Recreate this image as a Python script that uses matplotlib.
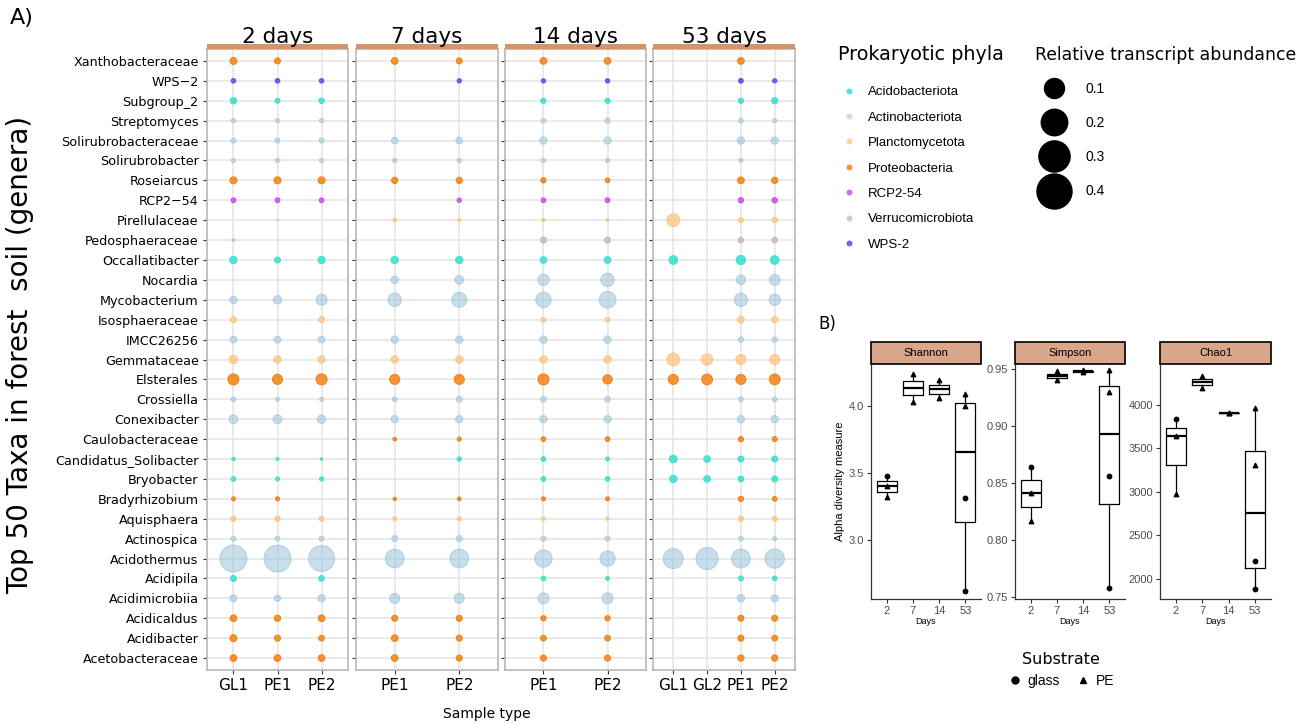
import matplotlib
matplotlib.use("Agg")
import matplotlib.pyplot as plt
import matplotlib.colors as mcolors
from matplotlib.lines import Line2D
from matplotlib.patches import Rectangle
import numpy as np

# ---- data -------------------------------------------------------------
taxa = ["Xanthobacteraceae", "WPS\u22122", "Subgroup_2", "Streptomyces", "Solirubrobacteraceae",
        "Solirubrobacter", "Roseiarcus", "RCP2\u221254", "Pirellulaceae", "Pedosphaeraceae",
        "Occallatibacter", "Nocardia", "Mycobacterium", "Isosphaeraceae", "IMCC26256",
        "Gemmataceae", "Elsterales", "Crossiella", "Conexibacter", "Caulobacteraceae",
        "Candidatus_Solibacter", "Bryobacter", "Bradyrhizobium", "Aquisphaera", "Actinospica",
        "Acidothermus", "Acidipila", "Acidimicrobiia", "Acidicaldus", "Acidibacter",
        "Acetobacteraceae"]
phylum = ["Proteobacteria", "WPS-2", "Acidobacteriota", "Actinobacteriota", "Actinobacteriota",
          "Actinobacteriota", "Proteobacteria", "RCP2-54", "Planctomycetota", "Verrucomicrobiota",
          "Acidobacteriota", "Actinobacteriota", "Actinobacteriota", "Planctomycetota", "Actinobacteriota",
          "Planctomycetota", "Proteobacteria", "Actinobacteriota", "Actinobacteriota", "Proteobacteria",
          "Acidobacteriota", "Acidobacteriota", "Proteobacteria", "Planctomycetota", "Actinobacteriota",
          "Actinobacteriota", "Acidobacteriota", "Actinobacteriota", "Proteobacteria", "Proteobacteria",
          "Proteobacteria"]

d2_GL1 = [0.0074, 0.0025, 0.0062, 0.0022, 0.0032, 0.0022, 0.0074, 0.0028, 0, 0.0006, 0.0083, 0, 0.0083,
          0.0051, 0.0067, 0.0113, 0.0228, 0.0028, 0.0127, 0, 0.0012, 0.0028, 0.0019, 0.0037, 0.0032,
          0.21, 0.0051, 0.0067, 0.0067, 0.0074, 0.0067]
d2_PE1 = [0.0051, 0.0025, 0.0032, 0.0022, 0.0032, 0.0022, 0.0074, 0.0028, 0.0002, 0, 0.0051, 0, 0.0113,
          0, 0.0067, 0.0083, 0.018, 0.0015, 0.0127, 0, 0.0009, 0.0019, 0.0019, 0.0037, 0.0032,
          0.21, 0, 0.0057, 0.0057, 0.0051, 0.0067]
d2_PE2 = [0, 0.0025, 0.0041, 0.0022, 0.0032, 0.0022, 0.0074, 0.0028, 0, 0, 0.0083, 0, 0.0228,
          0.0051, 0.0067, 0.0083, 0.0228, 0.0019, 0.0113, 0, 0.0007, 0.0022, 0, 0.0032, 0.0032,
          0.191, 0.0045, 0.0083, 0.0067, 0.0045, 0.0067]
d7_PE1 = [0.0067, 0, 0, 0, 0.0067, 0.0022, 0.0057, 0, 0.0012, 0, 0.0083, 0.0083, 0.0364,
          0, 0.0083, 0.0083, 0.018, 0.0028, 0.0083, 0.0015, 0, 0, 0.0012, 0.0019, 0.0051,
          0.085, 0, 0.018, 0.0051, 0.0067, 0.0067]
d7_PE2 = [0.0051, 0.0022, 0, 0, 0.0067, 0.0022, 0.0057, 0.0022, 0.0009, 0, 0.0083, 0.0127, 0.049,
          0, 0.0083, 0.0083, 0.018, 0.0051, 0.0083, 0.0019, 0.0022, 0, 0.0015, 0.0019, 0.0051,
          0.085, 0, 0.018, 0.0051, 0.0051, 0.0051]
d14_PE1 = [0.0067, 0.0022, 0.0037, 0.0028, 0.0083, 0.0022, 0.0037, 0.0028, 0.0012, 0.0051, 0.0067, 0.0244, 0.0516,
           0.0028, 0.0083, 0.0083, 0.0228, 0.0045, 0.0083, 0.0028, 0.0028, 0.0028, 0.0019, 0.0015, 0.0037,
           0.07, 0.0028, 0.0228, 0.0037, 0.0045, 0.0051]
d14_PE2 = [0.0067, 0.0022, 0.0037, 0.0037, 0.0083, 0.0022, 0.0028, 0.0028, 0.0009, 0.0051, 0.0067, 0.0364, 0.064,
           0.0028, 0.0083, 0.0083, 0.015, 0.0045, 0.0083, 0.0028, 0.0019, 0.0028, 0.0019, 0.0012, 0.0037,
           0.0516, 0.0019, 0.0228, 0.0037, 0.0045, 0.0051]
d53_GL1 = [0, 0, 0, 0, 0, 0, 0, 0, 0.0325, 0, 0.0127, 0, 0,
           0, 0, 0.0325, 0.018, 0, 0, 0, 0.0094, 0.0083, 0, 0, 0,
           0.10, 0, 0, 0, 0, 0]
d53_GL2 = [0, 0, 0, 0, 0, 0, 0, 0, 0, 0, 0, 0, 0,
           0, 0, 0.0244, 0.0213, 0, 0, 0, 0.0067, 0.0067, 0, 0, 0,
           0.127, 0, 0, 0, 0, 0]
d53_PE1 = [0.0067, 0.0028, 0.0037, 0.0028, 0.0083, 0.0019, 0.0067, 0.0037, 0.0032, 0.0037, 0.015, 0.015, 0.0364,
           0.0067, 0.0037, 0.018, 0.018, 0.0028, 0.0083, 0.0037, 0.0051, 0.0045, 0.0037, 0.0037, 0.0028,
           0.085, 0.0032, 0.0083, 0.0051, 0.0051, 0.0057]
d53_PE2 = [0, 0.0022, 0.0057, 0.0019, 0.0083, 0, 0.0057, 0.0037, 0.0037, 0.0045, 0.0127, 0.0213, 0.0244,
           0.0057, 0.0037, 0.018, 0.0213, 0.0028, 0.0083, 0.0032, 0.0051, 0.0051, 0.0028, 0.0032, 0.0019,
           0.092, 0.0028, 0.0083, 0.0051, 0.0045, 0.0057]

size_breaks = [0.1, 0.2, 0.3, 0.4]

# alpha diversity (panel B)
alpha_day = [2, 2, 2, 7, 7, 14, 14, 53, 53, 53, 53]
alpha_sub = ["glass", "PE", "PE", "PE", "PE", "PE", "PE", "glass", "glass", "PE", "PE"]
shannon = [3.48, 3.40, 3.32, 4.24, 4.03, 4.19, 4.06, 2.62, 3.31, 4.00, 4.09]
simpson = [0.864, 0.841, 0.817, 0.948, 0.940, 0.949, 0.947, 0.758, 0.856, 0.930, 0.949]
chao1 = [3840, 3641, 2977, 4330, 4200, 3912, 3908, 1885, 2207, 3310, 3960]
day_levels = [2, 7, 14, 53]

phyla_colors = {
    "Acidobacteriota": ("#40E0D0", 0.9),
    "Actinobacteriota": ("#9DC3DC", 0.55),
    "Planctomycetota": ("#FDBF6F", 0.65),
    "Proteobacteria": ("#F27F0C", 0.82),
    "RCP2-54": ("#CC44EE", 0.8),
    "Verrucomicrobiota": ("#C8A8D0", 0.7),
    "WPS-2": ("#5A4BF0", 0.85),
}

W, H = 1306, 723
plt.rcParams["font.family"] = "DejaVu Sans"
fig = plt.figure(figsize=(W / 100, H / 100), dpi=100)


def px_axes(x0, y0, x1, y1):
    return fig.add_axes([x0 / W, 1 - y1 / H, (x1 - x0) / W, (y1 - y0) / H])


def bubble_d(v):
    # diameter in points
    return 50.7 * np.power(v, 0.404) * 0.72


# ---- panel A ------------------------------------------------------------
panels = [("2 days", ["GL1", "PE1", "PE2"], [d2_GL1, d2_PE1, d2_PE2], 207, 348),
          ("7 days", ["PE1", "PE2"], [d7_PE1, d7_PE2], 356, 498),
          ("14 days", ["PE1", "PE2"], [d14_PE1, d14_PE2], 505, 646),
          ("53 days", ["GL1", "GL2", "PE1", "PE2"], [d53_GL1, d53_GL2, d53_PE1, d53_PE2], 653, 795)]

rows = np.arange(1, len(taxa) + 1)
face = np.array([mcolors.to_rgba(phyla_colors[p][0], phyla_colors[p][1]) for p in phylum])
edge = np.array([mcolors.to_rgba(phyla_colors[p][0], min(1, phyla_colors[p][1] + 0.2)) for p in phylum])

for k, (title, labels, cols, x0, x1) in enumerate(panels):
    ax = px_axes(x0, 49, x1, 670)
    n = len(cols)
    ax.set_xlim(0.4, n + 0.6)
    ax.set_ylim(len(taxa) + 0.6, 0.4)
    ax.set_xticks(range(1, n + 1))
    ax.set_xticklabels(labels, fontsize=11)
    ax.set_yticks(rows)
    if k == 0:
        ax.set_yticklabels(taxa, fontsize=9.2)
    else:
        ax.set_yticklabels([])
        ax.tick_params(axis="y", length=0)
    ax.tick_params(length=3, color="#333333", width=0.8, pad=3)
    ax.grid(True, color="#e6e6e6", lw=1.2)
    ax.set_axisbelow(True)
    for sp in ax.spines.values():
        sp.set_color("#b8b8b8")
        sp.set_linewidth(1.2)
    for j, vals in enumerate(cols):
        v = np.array(vals, dtype=float)
        m = v > 0
        ax.scatter(np.full(m.sum(), j + 1), rows[m], s=bubble_d(v[m]) ** 2,
                   c=face[m], edgecolors=edge[m], linewidths=0.7, zorder=3)
    sax = px_axes(x0, 44, x1, 49)
    sax.set_facecolor("#D4956A")
    sax.set_xticks([])
    sax.set_yticks([])
    for sp in sax.spines.values():
        sp.set_visible(False)
    fig.text((x0 + x1) / 2 / W, 1 - 37 / H, title, ha="center", va="center", fontsize=15.5)

fig.text(10 / W, 1 - 18 / H, "A)", fontsize=16, va="center")
fig.text(20 / W, 1 - 355 / H, "Top 50 Taxa in forest  soil (genera)", rotation=90,
         fontsize=20, ha="center", va="center")
fig.text(487 / W, 1 - 714 / H, "Sample type", fontsize=10, ha="center", va="center")

# legends for panel A
ph_names = list(phyla_colors.keys())
ph_handles = [Line2D([], [], marker="o", ls="", markersize=4.3,
                     markerfacecolor=mcolors.to_rgba(phyla_colors[p][0], phyla_colors[p][1]),
                     markeredgecolor="none") for p in ph_names]
fig.text(838 / W, 1 - 55 / H, "Prokaryotic phyla", fontsize=13.8, va="center", ha="left")
fig.legend(ph_handles, ph_names, loc="upper left",
           bbox_to_anchor=(838 / W, 1 - 86 / H), frameon=False,
           labelspacing=1.0, handlelength=1.6, handletextpad=0.68,
           borderpad=0, borderaxespad=0, prop={"family": "Liberation Sans", "size": 9.5})

sz_handles = [Line2D([], [], marker="o", ls="", color="black", markersize=bubble_d(b)) for b in size_breaks]
fig.text(1035 / W, 1 - 55 / H, "Relative transcript abundance", fontsize=12.4, va="center", ha="left")
fig.legend(sz_handles, [str(b) for b in size_breaks],
           loc="upper left", bbox_to_anchor=(1035 / W, 1 - 82 / H), frameon=False,
           labelspacing=1.45, handlelength=2.8, handletextpad=0.8,
           borderpad=0, borderaxespad=0, prop={"family": "Liberation Sans", "size": 10})

# ---- panel B ------------------------------------------------------------
measures = [("Shannon", shannon, 871, 981, (2.56, 4.313), [3.0, 3.5, 4.0], "{:.1f}"),
            ("Simpson", simpson, 1015, 1125, (0.7482, 0.9544), [0.75, 0.80, 0.85, 0.90, 0.95], "{:.2f}"),
            ("Chao1", chao1, 1160, 1271, (1770, 4471), [2000, 2500, 3000, 3500, 4000], "{:.0f}")]
day_arr = np.array(alpha_day)
sub_arr = np.array(alpha_sub)
for name, vals, x0, x1, ylim, yt, fmt in measures:
    vals = np.array(vals, dtype=float)
    ax = px_axes(x0, 364, x1, 599)
    groups = [vals[day_arr == d] for d in day_levels]
    ax.boxplot(groups, positions=range(1, 5), widths=0.75, whis=1.5, showfliers=False,
               boxprops=dict(color="black", lw=0.9), whiskerprops=dict(color="black", lw=0.9),
               capprops=dict(visible=False), medianprops=dict(color="black", lw=1.6))
    pos = np.array([day_levels.index(d) + 1 for d in alpha_day])
    for sub, mk in [("glass", "o"), ("PE", "^")]:
        m = sub_arr == sub
        ax.scatter(pos[m], vals[m], marker=mk, s=10, color="black", zorder=3)
    ax.set_xlim(0.4, 4.6)
    ax.set_ylim(*ylim)
    ax.set_yticks(yt)
    ax.set_yticklabels([fmt.format(t) for t in yt], fontsize=8, family="Liberation Sans")
    ax.set_xticks(range(1, 5))
    ax.set_xticklabels([str(d) for d in day_levels], fontsize=8, family="Liberation Sans")
    ax.tick_params(length=3, width=0.8, color="#333333", labelcolor="#4d4d4d", pad=2)
    ax.spines["top"].set_visible(False)
    ax.spines["right"].set_visible(False)
    for s in ("left", "bottom"):
        ax.spines[s].set_linewidth(0.9)
        ax.spines[s].set_color("#333333")
    ax.set_xlabel("Days", fontsize=6.5, family="Liberation Sans", labelpad=1)
    if name == "Shannon":
        ax.set_ylabel("Alpha diversity measure", fontsize=8, family="Liberation Sans", labelpad=3)
    sax = px_axes(x0, 342, x1, 364)
    sax.set_xticks([])
    sax.set_yticks([])
    sax.add_patch(Rectangle((0, 0), 1, 1, transform=sax.transAxes, facecolor="#D9A68A",
                            edgecolor="black", lw=1.2, clip_on=False))
    sax.text(0.5, 0.5, name, ha="center", va="center", fontsize=8, family="Liberation Sans")
    for sp in sax.spines.values():
        sp.set_visible(False)

fig.text(818 / W, 1 - 324 / H, "B)", fontsize=12, va="center")

sub_handles = [Line2D([], [], marker="o", ls="", color="black", markersize=5),
               Line2D([], [], marker="^", ls="", color="black", markersize=5)]
fig.legend(sub_handles, ["glass", "PE"], title="Substrate", loc="upper center",
           bbox_to_anchor=(1061 / W, 1 - 652 / H), frameon=False, ncol=2,
           title_fontsize=11.5, handlelength=1.0, handletextpad=0.4, columnspacing=1.2,
           borderpad=0, borderaxespad=0, prop={"family": "Liberation Sans", "size": 10})

fig.savefig("out.png", dpi=100)
